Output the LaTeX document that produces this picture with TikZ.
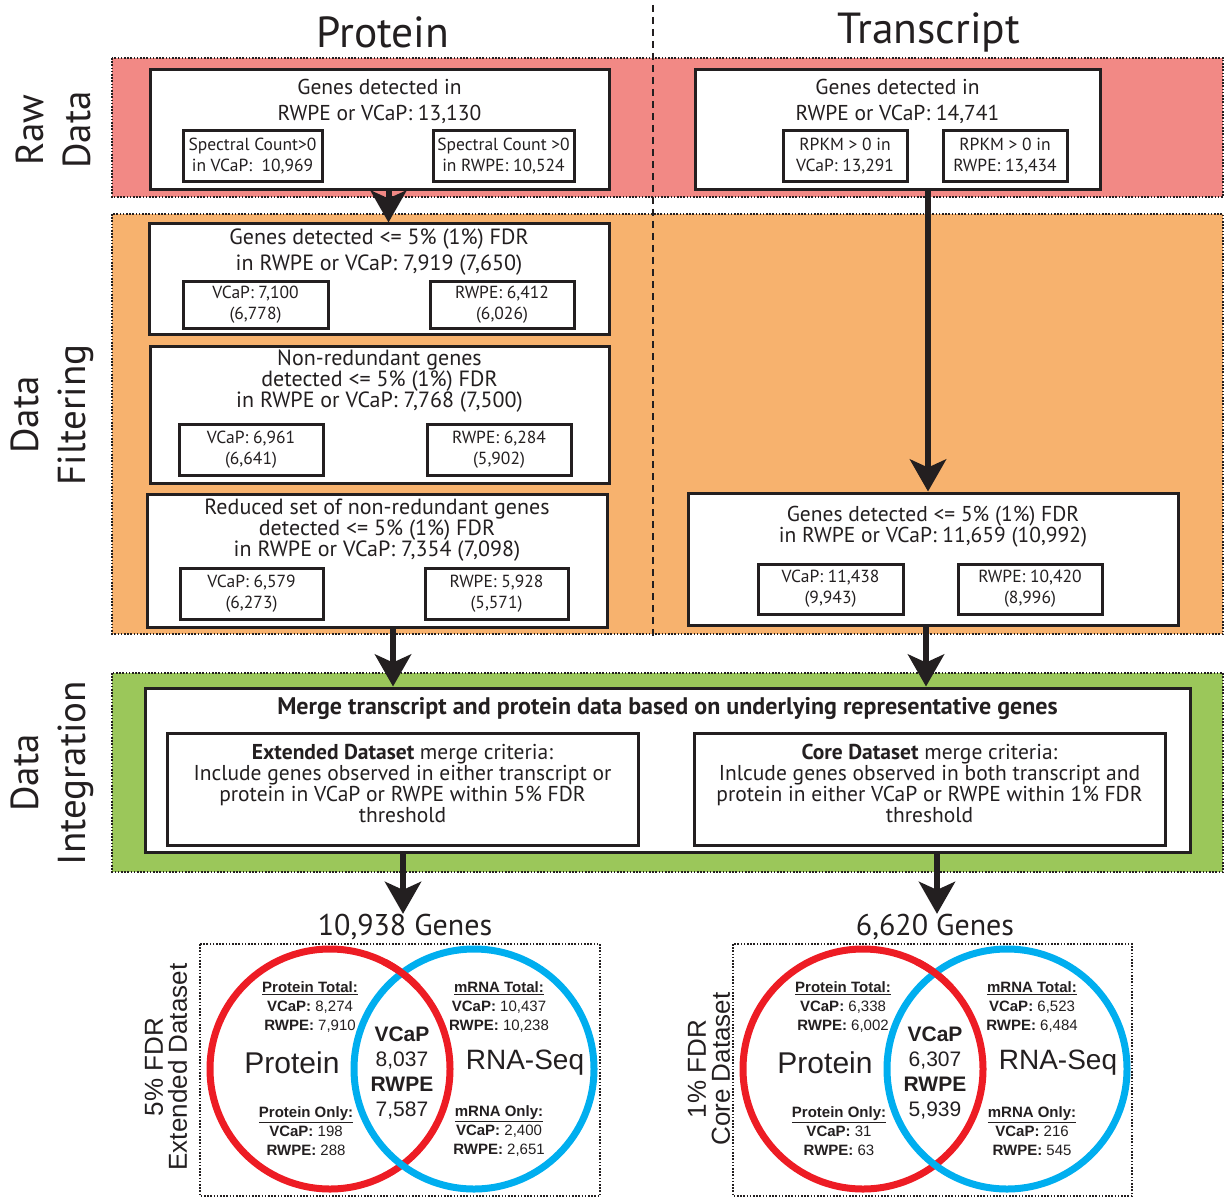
\documentclass[tikz,border=0pt]{standalone}
\usepackage{fontspec}
\setmainfont{PT Sans}
\newfontfamily\arialf{Liberation Sans}
\usetikzlibrary{arrows.meta,calc}
\definecolor{rawred}{RGB}{242,137,133}
\definecolor{filtor}{RGB}{247,178,110}
\definecolor{intgr}{RGB}{155,199,90}
\definecolor{vred}{RGB}{237,28,36}
\definecolor{vblue}{RGB}{0,174,239}
\definecolor{ink}{RGB}{35,31,32}
\newcommand\myfs[2]{\fontsize{#1}{#2}\selectfont}
\begin{document}
\begin{tikzpicture}[x=1pt,y=-1pt,
  every node/.style={text=ink, inner sep=0pt},
  bandline/.style={draw=ink, line width=2.5pt, dash pattern=on 1.6pt off 1.6pt},
  bigbox/.style={draw=ink, fill=white, line width=3pt},
  subbox/.style={draw=ink, fill=white, line width=3pt, align=center, font=\myfs{17.5}{21}},
  ttl/.style={align=center, font=\myfs{21.5}{26}},
  ttlb/.style={align=center, font=\myfs{22}{21}},
  ttlc/.style={align=center, font=\myfs{21.5}{21}},
  arr/.style={draw=ink, line width=6pt, -{Stealth[length=32pt,width=36pt,inset=8pt]}},
  sidelab/.style={rotate=90, align=center, font=\myfs{39}{47}},
  vtxt/.style={align=center, font=\arialf\myfs{15}{19}},
  vctr/.style={align=center, font=\arialf\myfs{21}{25}},
  vring/.style={line width=7pt},
]
\useasboundingbox (0,0) rectangle (1225,1198);

% bands
\draw[bandline, fill=rawred] (112,58) rectangle (1223,197);
\draw[bandline, fill=filtor] (112,214) rectangle (1223,634);
\draw[bandline, fill=intgr] (112,673) rectangle (1223,872);
\draw[ink, line width=2.5pt, dash pattern=on 7pt off 5pt] (653,5) -- (653,640);

% column titles
\node[font=\myfs{43.5}{43.5}] (tP) at (383,32) {Protein};
\node[font=\myfs{43.5}{43.5}] (tT) at (929,32) {Transcript};

% side labels
\node[sidelab] (lRaw) at (53,130) {Raw\\Data};
\node[sidelab] (lFil) at (52,415) {Data\\Filtering};
\node[sidelab] (lInt) at (52,773) {Data\\Integration};

% raw data
\node[bigbox, minimum width=459, minimum height=120] (rawP) at (379.5,130) {};
\node[ttl] (rawPt) at (379.5,101) {Genes detected in\\RWPE or VCaP: 13,130};
\node[subbox, minimum width=139, minimum height=51] (rawPv) at (252.5,156.5) {Spectral Count>0\\in VCaP:\ \ 10,969};
\node[subbox, minimum width=141, minimum height=51] (rawPr) at (503.5,156.5) {Spectral Count >0\\in RWPE: 10,524};

\node[bigbox, minimum width=405, minimum height=120] (rawT) at (897.5,130) {};
\node[ttl] (rawTt) at (897.5,101) {Genes detected in\\RWPE or VCaP: 14,741};
\node[subbox, minimum width=124, minimum height=51] (rawTv) at (845,156.5) {RPKM > 0 in\\VCaP: 13,291};
\node[subbox, minimum width=124, minimum height=51] (rawTr) at (1005,156.5) {RPKM > 0 in\\RWPE: 13,434};

% filtering
\node[bigbox, minimum width=460, minimum height=110] (f1) at (379,279) {};
\node[ttl, font=\myfs{22}{26}] (f1t) at (379,252) {Genes detected <= 5\% (1\%) FDR\\in RWPE or VCaP: 7,919 (7,650)};
\node[subbox, minimum width=145, minimum height=47] (f1v) at (255.5,304.5) {VCaP: 7,100\\(6,778)};
\node[subbox, minimum width=144, minimum height=47] (f1r) at (502,304.5) {RWPE: 6,412\\(6,026)};

\node[bigbox, minimum width=459, minimum height=137] (f2) at (379.5,414.5) {};
\node[ttlb] (f2t) at (379.5,381) {Non-redundant genes\\detected <= 5\% (1\%) FDR\\in RWPE or VCaP: 7,768 (7,500)};
\node[subbox, minimum width=144, minimum height=51] (f2v) at (251,449.5) {VCaP: 6,961\\(6,641)};
\node[subbox, minimum width=144, minimum height=51] (f2r) at (499,449.5) {RWPE: 6,284\\(5,902)};

\node[bigbox, minimum width=460, minimum height=133] (f3) at (377,560.5) {};
\node[ttlb] (f3t) at (377,530) {Reduced set of non-redundant genes\\detected <= 5\% (1\%) FDR\\in RWPE or VCaP: 7,354 (7,098)};
\node[subbox, minimum width=143, minimum height=51] (f3v) at (251.5,593.5) {VCaP: 6,579\\(6,273)};
\node[subbox, minimum width=143, minimum height=51] (f3r) at (496.5,593.5) {RWPE: 5,928\\(5,571)};

\node[bigbox, minimum width=490, minimum height=132] (fT) at (933,559) {};
\node[ttlc] (fTt) at (933,526.5) {Genes detected <= 5\% (1\%) FDR\\in RWPE or VCaP: 11,659 (10,992)};
\node[subbox, minimum width=145, minimum height=50] (fTv) at (830.5,589) {VCaP: 11,438\\(9,943)};
\node[subbox, minimum width=144, minimum height=50] (fTr) at (1030,589) {RWPE: 10,420\\(8,996)};

% integration
\node[bigbox, minimum width=1045, minimum height=164] (integ) at (667.5,770) {};
\node[font=\bfseries\myfs{24}{24}] (intT) at (667.5,709) {Merge transcript and protein data based on underlying representative genes};
\node[bigbox, minimum width=471, minimum height=112] (intE) at (402.5,789) {};
\node[ttlc] (intEt) at (402.5,783) {\textbf{Extended Dataset} merge criteria:\\Include genes observed in either transcript or\\protein in VCaP or RWPE within 5\% FDR\\threshold};
\node[bigbox, minimum width=471, minimum height=112] (intC) at (929.5,789) {};
\node[ttlc] (intCt) at (929.5,783) {\textbf{Core Dataset} merge criteria:\\Inlcude genes observed in both transcript and\\protein in either VCaP or RWPE within 1\% FDR\\threshold};

% gene counts
\node[font=\myfs{30}{30}] (g1) at (405,927) {10,938 Genes};
\node[font=\myfs{30}{30}] (g2) at (935,927) {6,620 Genes};

% arrows
\draw[arr] ([xshift=9]rawP.south) -- ([xshift=9]rawP.south |- f1.north);
\draw[arr] ([xshift=30.5]rawT.south) -- ([xshift=30.5]rawT.south |- fT.north);
\draw[arr] ([xshift=16]f3.south) -- ([xshift=16]f3.south |- integ.north);
\draw[arr] ([xshift=-7]fT.south) -- ([xshift=-7]fT.south |- integ.north);
\draw[arr] ([xshift=-264.5]integ.south) -- ([xshift=-264.5]integ.south |- g1.north);
\draw[arr] ([xshift=269.5]integ.south) -- ([xshift=269.5]integ.south |- g2.north);

% Venn boxes
\draw[bandline] (200,944) rectangle (600,1196);
\draw[bandline] (733,944) rectangle (1132,1196);

% left Venn
\draw[vred, vring] (330,1069) circle[radius=120];
\draw[vblue, vring] (474,1069) circle[radius=120];
\draw[vred, vring] (330,1069) ++(-63:120) arc[start angle=-63, end angle=-43, radius=120];
\node[vtxt] (lpt) at (310,1007) {\textbf{\underline{Protein Total:}}\\\textbf{VCaP:} 8,274\\\textbf{RWPE:} 7,910};
\node[font=\arialf\myfs{30}{30}] (lpl) at (292,1063) {Protein};
\node[vtxt] (lpo) at (306,1131) {\textbf{\underline{Protein Only:}}\\\textbf{VCaP:} 198\\\textbf{RWPE:} 288};
\node[vctr] (lc) at (402,1073) {\textbf{VCaP}\\8,037\\\textbf{RWPE}\\7,587};
\node[vtxt] (lmt) at (499,1007) {\textbf{\underline{mRNA Total:}}\\\textbf{VCaP:} 10,437\\\textbf{RWPE:} 10,238};
\node[font=\arialf\myfs{28}{28}] (lrl) at (525,1063) {RNA-Seq};
\node[vtxt] (lmo) at (499,1131) {\textbf{\underline{mRNA Only:}}\\\textbf{VCaP:} 2,400\\\textbf{RWPE:} 2,651};
\node[rotate=90, align=center, font=\arialf\myfs{26}{24}] (lside) at (166,1067) {5\% FDR\\Extended Dataset};

% right Venn
\draw[vred, vring] (863,1069) circle[radius=120];
\draw[vblue, vring] (1007,1069) circle[radius=120];
\draw[vred, vring] (863,1069) ++(-63:120) arc[start angle=-63, end angle=-43, radius=120];
\node[vtxt] (rpt) at (843,1007) {\textbf{\underline{Protein Total:}}\\\textbf{VCaP:} 6,338\\\textbf{RWPE:} 6,002};
\node[font=\arialf\myfs{30}{30}] (rpl) at (825,1063) {Protein};
\node[vtxt] (rpo) at (839,1131) {\textbf{\underline{Protein Only:}}\\\textbf{VCaP:} 31\\\textbf{RWPE:} 63};
\node[vctr] (rc) at (935,1073) {\textbf{VCaP}\\6,307\\\textbf{RWPE}\\5,939};
\node[vtxt] (rmt) at (1032,1007) {\textbf{\underline{mRNA Total:}}\\\textbf{VCaP:} 6,523\\\textbf{RWPE:} 6,484};
\node[font=\arialf\myfs{28}{28}] (rrl) at (1058,1063) {RNA-Seq};
\node[vtxt] (rmo) at (1032,1131) {\textbf{\underline{mRNA Only:}}\\\textbf{VCaP:} 216\\\textbf{RWPE:} 545};
\node[rotate=90, align=center, font=\arialf\myfs{26}{24}] (rside) at (709,1069) {1\% FDR\\Core Dataset};
\end{tikzpicture}
\end{document}
